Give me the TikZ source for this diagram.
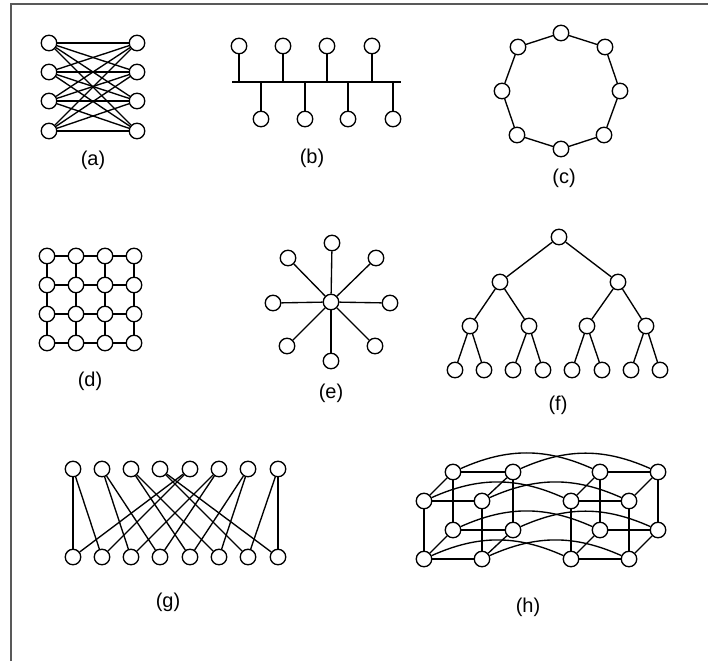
\documentclass[tikz,border=0pt]{standalone}
\usepackage{fontspec}
\setmainfont{Liberation Sans}
\usetikzlibrary{backgrounds}
\begin{document}
\begin{tikzpicture}[x=1pt,y=-1pt,
  vtx/.style={circle,draw,fill=white,minimum size=15.5pt,inner sep=0pt,line width=1.35pt},
  edge/.style={line width=1.35pt},
  lbl/.style={font=\fontsize{20}{22}\selectfont,inner sep=0pt},
  frameline/.style={draw=black!65,line width=1.3pt}]
\useasboundingbox (0,0) rectangle (708,661);
\coordinate (fa) at (11,661);
\coordinate (fb) at (11,4);
\coordinate (fc) at (708,4);
\draw[frameline] (fa) -- (fb) -- (fc);

% ---------- (a) ----------
\foreach \i/\y in {1/43,2/72,3/101,4/131}{
  \node[vtx] (al\i) at (49,\y) {};
  \node[vtx] (ar\i) at (137,\y) {};
}
\begin{scope}[on background layer]
\foreach \i in {1,...,4}{\foreach \j in {1,...,4}{\draw[edge] (al\i) -- (ar\j);}}
\end{scope}
\node[lbl] (la) at (93,160) {(a)};

% ---------- (b) ----------
\coordinate (bL) at (232,82);
\coordinate (bR) at (401,82);
\draw[edge] (bL) -- (bR);
\foreach \i/\x in {1/239,2/283,3/327,4/372}{
  \node[vtx] (bt\i) at (\x,46) {};
  \draw[edge] (bt\i) -- (bt\i |- bL);
}
\foreach \i/\x in {1/261,2/305,3/348,4/393}{
  \node[vtx] (bb\i) at (\x,119) {};
  \draw[edge] (bb\i) -- (bb\i |- bL);
}
\node[lbl] (lb) at (312,158) {(b)};

% ---------- (c) ----------
\node[vtx] (c1) at (561,33) {};
\node[vtx] (c2) at (605,47) {};
\node[vtx] (c3) at (620,91) {};
\node[vtx] (c4) at (604,135) {};
\node[vtx] (c5) at (561,149) {};
\node[vtx] (c6) at (517,135) {};
\node[vtx] (c7) at (502,91) {};
\node[vtx] (c8) at (518,47) {};
\draw[edge] (c1) -- (c2) -- (c3) -- (c4) -- (c5) -- (c6) -- (c7) -- (c8) -- (c1);
\node[lbl] (lc) at (564,178) {(c)};

% ---------- (d) ----------
\foreach \i/\x in {1/47,2/76,3/105,4/134}{
  \foreach \j/\y in {1/256,2/285,3/314,4/343}{
    \node[vtx] (d\i\j) at (\x,\y) {};
  }
}
\foreach \i in {1,...,4}{
  \draw[edge] (d1\i) -- (d2\i) -- (d3\i) -- (d4\i);
  \draw[edge] (d\i1) -- (d\i2) -- (d\i3) -- (d\i4);
}
\node[lbl] (ld) at (90,381) {(d)};

% ---------- (e) ----------
\node[vtx] (e0) at (331,302) {};
\node[vtx] (e1) at (332,243) {};
\node[vtx] (e2) at (376,258) {};
\node[vtx] (e3) at (390,303) {};
\node[vtx] (e4) at (375,346) {};
\node[vtx] (e5) at (331,361) {};
\node[vtx] (e6) at (287,346) {};
\node[vtx] (e7) at (273,303) {};
\node[vtx] (e8) at (288,258) {};
\foreach \i in {1,...,8}{\draw[edge] (e0) -- (e\i);}
\node[lbl] (le) at (331,393) {(e)};

% ---------- (f) ----------
\node[vtx] (f1) at (559,237) {};
\node[vtx] (f2) at (500,282) {};
\node[vtx] (f3) at (618,282) {};
\node[vtx] (f4) at (470,326) {};
\node[vtx] (f5) at (529,326) {};
\node[vtx] (f6) at (587,326) {};
\node[vtx] (f7) at (646,326) {};
\foreach \i/\x in {8/455,9/484,10/513,11/543,12/572,13/602,14/631,15/660}{
  \node[vtx] (f\i) at (\x,370) {};
}
\draw[edge] (f2) -- (f1) -- (f3);
\draw[edge] (f4) -- (f2) -- (f5);
\draw[edge] (f6) -- (f3) -- (f7);
\draw[edge] (f8) -- (f4) -- (f9);
\draw[edge] (f10) -- (f5) -- (f11);
\draw[edge] (f12) -- (f6) -- (f13);
\draw[edge] (f14) -- (f7) -- (f15);
\node[lbl] (lf) at (558,405) {(f)};

% ---------- (g) ----------
\foreach \i/\x in {0/73,1/102,2/131,3/160,4/190,5/219,6/248,7/278}{
  \node[vtx] (gt\i) at (\x,469) {};
  \node[vtx] (gb\i) at (\x,557) {};
}
\begin{scope}[on background layer]
\foreach \i/\a/\b in {0/0/1,1/2/3,2/4/5,3/6/7,4/0/1,5/2/3,6/4/5,7/6/7}{
  \draw[edge] (gt\i) -- (gb\a);
  \draw[edge] (gt\i) -- (gb\b);
}
\end{scope}
\node[lbl] (lg) at (168,602) {(g)};

% ---------- (h) ----------
% left cube
\node[vtx] (hL1) at (453,472) {};
\node[vtx] (hL2) at (513,472) {};
\node[vtx] (hL3) at (424,501) {};
\node[vtx] (hL4) at (482,501) {};
\node[vtx] (hL5) at (453,530) {};
\node[vtx] (hL6) at (513,530) {};
\node[vtx] (hL7) at (424,559) {};
\node[vtx] (hL8) at (482,559) {};
% right cube
\node[vtx] (hR1) at (600,472) {};
\node[vtx] (hR2) at (658,472) {};
\node[vtx] (hR3) at (571,501) {};
\node[vtx] (hR4) at (629,501) {};
\node[vtx] (hR5) at (600,530) {};
\node[vtx] (hR6) at (658,530) {};
\node[vtx] (hR7) at (571,559) {};
\node[vtx] (hR8) at (629,559) {};
\begin{scope}[on background layer]
\foreach \s in {L,R}{
  \draw[edge] (h\s1) -- (h\s2);
  \draw[edge] (h\s3) -- (h\s4);
  \draw[edge] (h\s5) -- (h\s6);
  \draw[edge] (h\s7) -- (h\s8);
  \draw[edge] (h\s1) -- (h\s5);
  \draw[edge] (h\s2) -- (h\s6);
  \draw[edge] (h\s3) -- (h\s7);
  \draw[edge] (h\s4) -- (h\s8);
  \draw[edge] (h\s1) -- (h\s3);
  \draw[edge] (h\s2) -- (h\s4);
  \draw[edge] (h\s5) -- (h\s7);
  \draw[edge] (h\s6) -- (h\s8);
}
\foreach \i in {1,...,8}{
  \draw[edge] (hL\i) to[bend left=24] (hR\i);
}
\end{scope}
\node[lbl] (lh) at (528,607) {(h)};
\end{tikzpicture}
\end{document}
